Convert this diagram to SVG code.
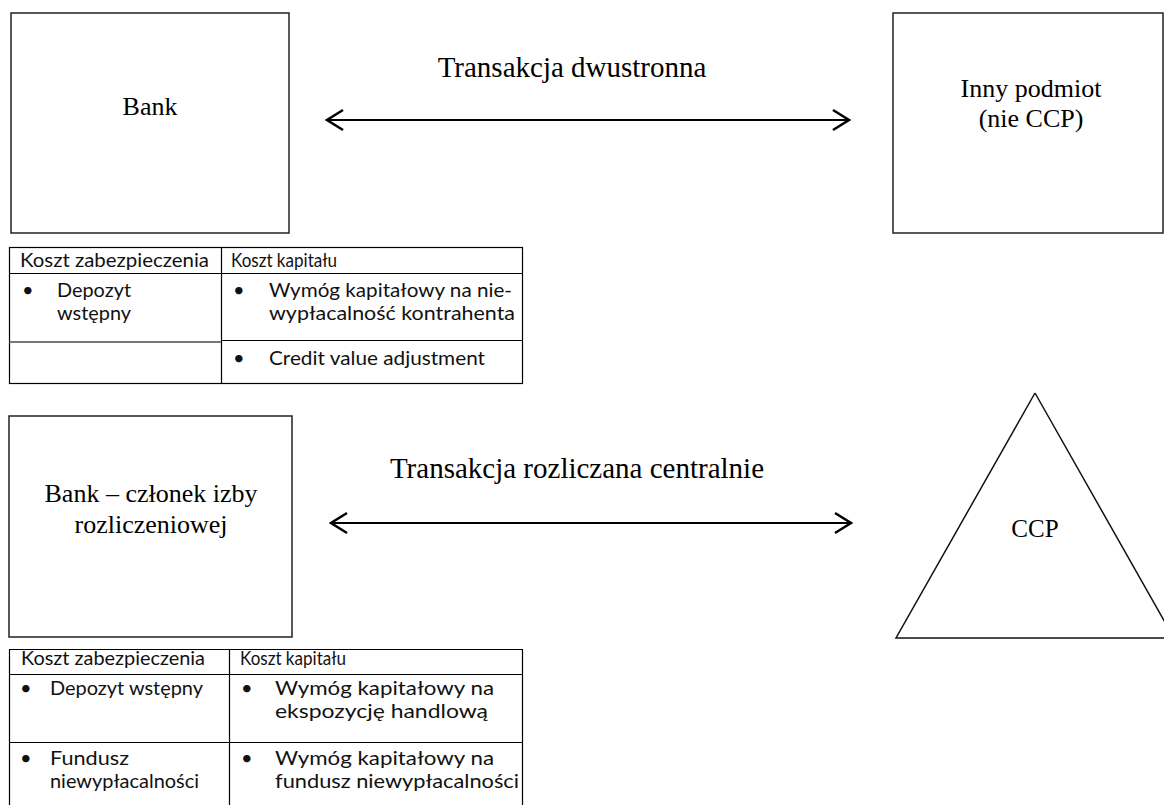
<svg xmlns="http://www.w3.org/2000/svg" width="1164" height="805" viewBox="0 0 1164 805">
<defs>
<style>
.box{fill:#fff;stroke:#222;stroke-width:1.5}
.serif{font-family:"Liberation Serif","Times New Roman",serif;fill:#000}
.t26{font-size:26px}
.t29{font-size:29px}
.tb{font-family:Lato,"Liberation Sans",sans-serif;font-size:20px;fill:#111}
.grid{stroke:#000;stroke-width:1.2;fill:none}
.conn{stroke:#000;stroke-width:2;fill:none}
</style>
<marker id="arr" viewBox="0 0 20 24" refX="18" refY="12" markerWidth="20" markerHeight="24" markerUnits="userSpaceOnUse" orient="auto-start-reverse">
<path d="M2,2 L18,12 L2,22" fill="none" stroke="#000" stroke-width="2.5"/>
</marker>
</defs>
<rect width="1164" height="805" fill="#fff"/>

<g id="connectors">
<line class="conn" x1="327" y1="120" x2="849" y2="120" marker-start="url(#arr)" marker-end="url(#arr)"/>
<text class="serif t29" x="572" y="77" text-anchor="middle">Transakcja dwustronna</text>
<line class="conn" x1="331" y1="523" x2="851" y2="523" marker-start="url(#arr)" marker-end="url(#arr)"/>
<text class="serif t29" x="577" y="478" text-anchor="middle">Transakcja rozliczana centralnie</text>
</g>

<g id="bank">
<rect class="box" x="11" y="13" width="278" height="220"/>
<text class="serif t26" x="150" y="115" text-anchor="middle">Bank</text>
</g>

<g id="inny">
<rect class="box" x="893" y="13" width="270" height="220"/>
<text class="serif t26" x="1031" y="97" text-anchor="middle">Inny podmiot</text>
<text class="serif t26" x="1031" y="127" text-anchor="middle">(nie CCP)</text>
</g>

<g id="table1">
<rect class="grid" x="9.5" y="247.5" width="513" height="136"/>
<line class="grid" x1="9.5" y1="273.5" x2="522.5" y2="273.5"/>
<line class="grid" x1="221.5" y1="247.5" x2="221.5" y2="383.5"/>
<line x1="9.5" y1="342" x2="221" y2="342" stroke="#777" stroke-width="2"/>
<line class="grid" x1="221.5" y1="340.5" x2="522.5" y2="340.5"/>
<text class="tb" x="20" y="267" textLength="189" lengthAdjust="spacingAndGlyphs">Koszt zabezpieczenia</text>
<text class="tb" x="231" y="267" textLength="106" lengthAdjust="spacingAndGlyphs">Koszt kapitału</text>
<text class="tb" x="22" y="297">•</text>
<text class="tb" x="57" y="297" textLength="74" lengthAdjust="spacingAndGlyphs">Depozyt</text>
<text class="tb" x="57" y="320" textLength="74" lengthAdjust="spacingAndGlyphs">wstępny</text>
<text class="tb" x="233" y="297">•</text>
<text class="tb" x="269" y="297" textLength="243" lengthAdjust="spacingAndGlyphs">Wymóg kapitałowy na nie-</text>
<text class="tb" x="269" y="320" textLength="246" lengthAdjust="spacingAndGlyphs">wypłacalność kontrahenta</text>
<text class="tb" x="233" y="365">•</text>
<text class="tb" x="269" y="365" textLength="216" lengthAdjust="spacingAndGlyphs">Credit value adjustment</text>
</g>

<g id="bank-czlonek">
<rect class="box" x="9" y="416" width="283" height="221"/>
<text class="serif t26" x="151" y="502" text-anchor="middle">Bank – członek izby</text>
<text class="serif t26" x="151" y="533" text-anchor="middle">rozliczeniowej</text>
</g>

<g id="ccp">
<path d="M1035,393 L896,638 L1164,638 M1035,393 L1166,624" fill="none" stroke="#111" stroke-width="1.5"/>
<text class="serif" font-size="25" x="1035" y="537" text-anchor="middle">CCP</text>
</g>

<g id="table2">
<path class="grid" d="M9.5,810 V649.5 H522.5 V810"/>
<line class="grid" x1="9.5" y1="674.5" x2="522.5" y2="674.5"/>
<line class="grid" x1="229.5" y1="649.5" x2="229.5" y2="810"/>
<line class="grid" x1="9.5" y1="742.5" x2="522.5" y2="742.5"/>
<text class="tb" x="21" y="665" textLength="184" lengthAdjust="spacingAndGlyphs">Koszt zabezpieczenia</text>
<text class="tb" x="240" y="665" textLength="106" lengthAdjust="spacingAndGlyphs">Koszt kapitału</text>
<text class="tb" x="20" y="695">•</text>
<text class="tb" x="50" y="695" textLength="153" lengthAdjust="spacingAndGlyphs">Depozyt wstępny</text>
<text class="tb" x="241" y="695">•</text>
<text class="tb" x="275" y="695" textLength="219" lengthAdjust="spacingAndGlyphs">Wymóg kapitałowy na</text>
<text class="tb" x="275" y="718" textLength="213" lengthAdjust="spacingAndGlyphs">ekspozycję handlową</text>
<text class="tb" x="20" y="765">•</text>
<text class="tb" x="50" y="765" textLength="79" lengthAdjust="spacingAndGlyphs">Fundusz</text>
<text class="tb" x="50" y="788" textLength="149" lengthAdjust="spacingAndGlyphs">niewypłacalności</text>
<text class="tb" x="241" y="765">•</text>
<text class="tb" x="275" y="765" textLength="219" lengthAdjust="spacingAndGlyphs">Wymóg kapitałowy na</text>
<text class="tb" x="275" y="788" textLength="244" lengthAdjust="spacingAndGlyphs">fundusz niewypłacalności</text>
</g>
</svg>
